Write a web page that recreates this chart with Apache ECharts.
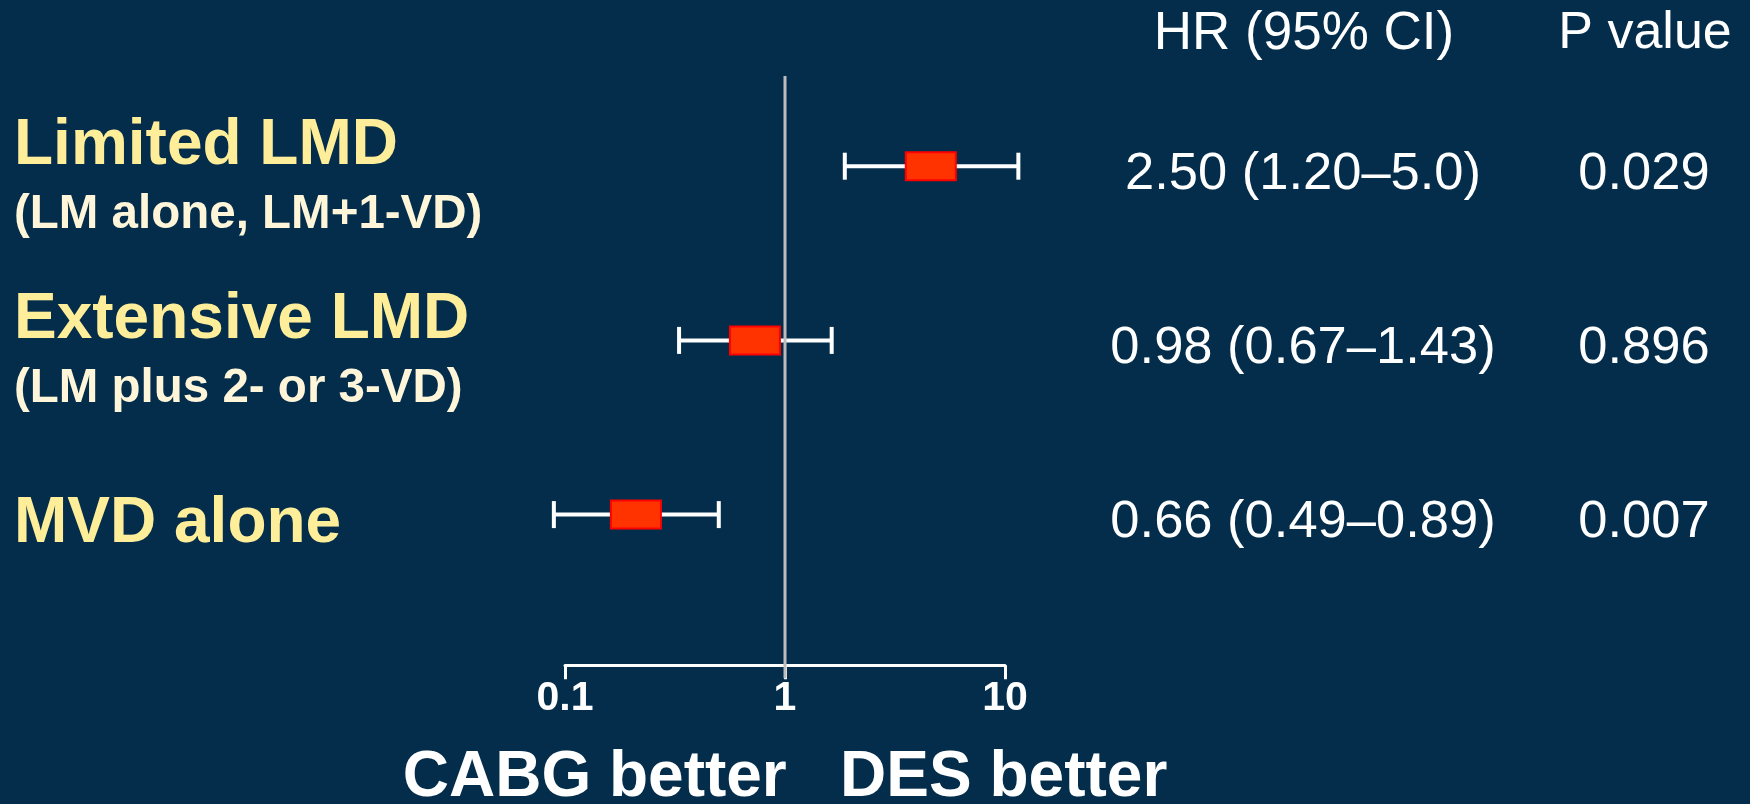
<!DOCTYPE html>
<html>
<head>
<meta charset="utf-8">
<script src="https://cdn.jsdelivr.net/npm/echarts@6/dist/echarts.min.js"></script>
<style>
html,body{margin:0;padding:0;background:#032D4B;}
#chart{width:1750px;height:804px;}
</style>
</head>
<body>
<div id="chart"></div>
<script>
// ---- data ----
const categories = ['Limited LMD', 'Extensive LMD', 'MVD alone'];
const subtitles = ['(LM alone, LM+1-VD)', '(LM plus 2- or 3-VD)', ''];
const hrText = ['2.50 (1.20\u20135.0)', '0.98 (0.67\u20131.43)', '0.66 (0.49\u20130.89)'];
const pText = ['0.029', '0.896', '0.007'];
// plotted positions as drawn in the figure (log scale)
const estimate = [4.6, 0.73, 0.21];
const lower = [1.87, 0.33, 0.089];
const upper = [11.5, 1.63, 0.50];
const refValue = 1;
const tickValues = [0.1, 1, 10];
const tickLabels = ['0.1', '1', '10'];
const headers = ['HR (95% CI)', 'P value'];
const xAxisName = 'CABG better   DES better';

// ---- style constants ----
const FONT = "'Liberation Sans', Arial, sans-serif";
const BG = '#032D4B';
const BOX_W = 50, BOX_H = 28, CAP_H = 27;

const forestData = categories.map((c, i) => [i, estimate[i], lower[i], upper[i]]);

const chart = echarts.init(document.getElementById('chart'), null, {renderer: 'canvas'});

const option = {
  backgroundColor: BG,
  animation: false,
  textStyle: {fontFamily: FONT},
  grid: [
    {left: 565, right: 745, top: 79.1, bottom: 202.3, outerBoundsMode: 'none', containLabel: false},
    {left: 565, right: 745, top: 76, bottom: 138.8, outerBoundsMode: 'none', containLabel: false}
  ],
  xAxis: [
    {gridIndex: 0, type: 'log', logBase: 10, min: 0.1, max: 10, show: false},
    {
      gridIndex: 1, type: 'log', logBase: 10, min: 0.1, max: 10,
      axisLine: {show: true, lineStyle: {color: '#FFFFFF', width: 3}},
      axisTick: {show: true, length: 14, lineStyle: {color: '#FFFFFF', width: 3}},
      splitLine: {show: false},
      minorTick: {show: false},
      axisLabel: {
        color: '#FFFFFF', fontSize: 41, fontWeight: 'bold', fontFamily: FONT, margin: 13,
        formatter: function (v) {
          let best = 0, bd = Infinity;
          tickValues.forEach((t, k) => { const d = Math.abs(Math.log10(v) - Math.log10(t)); if (d < bd) { bd = d; best = k; } });
          return tickLabels[best];
        }
      },
      name: xAxisName,
      nameLocation: 'middle',
      nameGap: 81,
      nameTextStyle: {color: '#FFFFFF', fontSize: 64, fontWeight: 'bold', fontFamily: FONT}
    }
  ],
  yAxis: [
    {
      gridIndex: 0, type: 'category', inverse: true, data: categories,
      axisLine: {show: false}, axisTick: {show: false}, splitLine: {show: false},
      axisLabel: {
        align: 'left', margin: 551,
        formatter: function (v, i) {
          if (subtitles[i]) return '{t|' + v + '}\n{s|' + subtitles[i] + '}';
          return '{g| }\n{t|' + v + '}';
        },
        rich: {
          t: {fontSize: 64, fontWeight: 'bold', color: '#FFEE99', lineHeight: 98, fontFamily: FONT},
          s: {fontSize: 47.5, fontWeight: 'bold', color: '#FFF6DA', lineHeight: 40, fontFamily: FONT},
          g: {fontSize: 2, lineHeight: 19}
        }
      }
    },
    {
      gridIndex: 0, type: 'category', inverse: true, position: 'right', data: categories,
      axisLine: {show: false}, axisTick: {show: false}, splitLine: {show: false},
      axisLabel: {
        align: 'left', margin: 99, padding: [16, 0, 0, 0],
        formatter: function (v, i) { return '{h|' + hrText[i] + '}{p|' + pText[i] + '}'; },
        rich: {
          h: {width: 398, align: 'center', fontSize: 52.5, color: '#FFFFFF', fontFamily: FONT},
          p: {width: 284, align: 'center', fontSize: 52.5, color: '#FFFFFF', fontFamily: FONT}
        }
      }
    },
    {gridIndex: 1, type: 'value', min: 0, max: 1, show: false}
  ],
  graphic: [
    {type: 'text', x: 1304, y: 34, style: {text: headers[0], fill: '#FFFFFF', font: '53px ' + FONT, textAlign: 'center', textVerticalAlign: 'middle'}},
    {type: 'text', x: 1645, y: 34, style: {text: headers[1], fill: '#FFFFFF', font: '52px ' + FONT, textAlign: 'center', textVerticalAlign: 'middle'}}
  ],
  series: [
    {
      type: 'custom', name: 'forest', xAxisIndex: 0, yAxisIndex: 0, z: 2, clip: false,
      data: forestData,
      encode: {x: [1, 2, 3], y: 0},
      renderItem: function (params, api) {
        const row = api.value(0);
        const c = api.coord([api.value(1), row]);
        const lo = api.coord([api.value(2), row]);
        const hi = api.coord([api.value(3), row]);
        const lineStyle = {stroke: '#FFFFFF', lineWidth: 4};
        return {
          type: 'group',
          children: [
            {type: 'line', shape: {x1: lo[0], y1: lo[1], x2: hi[0], y2: hi[1]}, style: lineStyle},
            {type: 'line', shape: {x1: lo[0], y1: lo[1] - CAP_H / 2, x2: lo[0], y2: lo[1] + CAP_H / 2}, style: lineStyle},
            {type: 'line', shape: {x1: hi[0], y1: hi[1] - CAP_H / 2, x2: hi[0], y2: hi[1] + CAP_H / 2}, style: lineStyle},
            {type: 'rect', shape: {x: c[0] - BOX_W / 2, y: c[1] - BOX_H / 2, width: BOX_W, height: BOX_H},
              style: {fill: '#FF3300', stroke: '#FF0000', lineWidth: 2}}
          ]
        };
      }
    },
    {
      type: 'custom', name: 'ref', xAxisIndex: 1, yAxisIndex: 2, z: 3, clip: false,
      data: [[refValue]],
      encode: {x: 0},
      renderItem: function (params, api) {
        const top = api.coord([api.value(0), 1]);
        const bot = api.coord([api.value(0), 0]);
        return {type: 'line', shape: {x1: top[0], y1: top[1], x2: bot[0], y2: bot[1] + 13},
          style: {stroke: '#BDBDBD', lineWidth: 3}};
      }
    }
  ]
};
chart.setOption(option);
</script>
</body>
</html>
